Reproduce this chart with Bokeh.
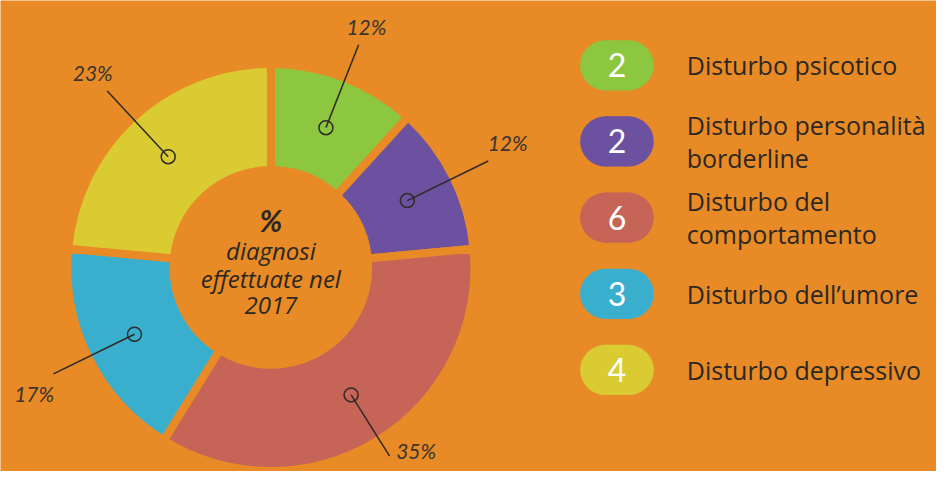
import math
from bokeh.plotting import figure
from bokeh.models import Range1d
from bokeh.core.properties import value
from bokeh.embed import file_html
from bokeh.resources import INLINE

# ---- data ----
categories = ["Disturbo psicotico", "Disturbo personalità\nborderline",
              "Disturbo del\ncomportamento", "Disturbo dell\u2019umore",
              "Disturbo depressivo"]
counts = [2, 2, 6, 3, 4]
pct_labels = ["12%", "12%", "35%", "17%", "23%"]
colors = ["#8DC63F", "#6C51A1", "#C66458", "#39AFCD", "#DACB33"]
center_lines = ["diagnosi", "effettuate nel", "2017"]

BG = "#E88A25"
INK = "#2B2824"
W, H = 952, 487

def Y(ys):  # reference y (top-down) -> data y
    return H - ys

p = figure(width=W - 16, height=H - 16, output_backend="svg", toolbar_location=None,
           x_range=Range1d(0, W), y_range=Range1d(0, H),
           x_axis_location=None, y_axis_location=None, min_border=0)
p.grid.visible = False
p.outline_line_color = None
p.background_fill_color = BG
p.border_fill_color = BG

cx, cy = 275, Y(276)
total = sum(counts)
starts, ends, mids = [], [], []
cum = 0
for c in counts:
    a0 = math.pi / 2 - 2 * math.pi * cum / total
    cum += c
    a1 = math.pi / 2 - 2 * math.pi * cum / total
    starts.append(a0); ends.append(a1); mids.append((a0 + a1) / 2)

gap = 8
p.annular_wedge(x=[cx] * len(counts), y=[cy] * len(counts),
                inner_radius=103 - gap / 2, outer_radius=203 + gap / 2,
                start_angle=starts, end_angle=ends, direction="clock",
                fill_color=colors, line_color=BG, line_width=gap)

# leader lines
r0, r1 = 155, 247
ymin = 16  # keep leader ends above the bottom edge
x0 = [cx + r0 * math.cos(m) for m in mids]
y0 = [cy + r0 * math.sin(m) for m in mids]
rr = [min(r1, (cy - ymin) / -math.sin(m)) if math.sin(m) < 0 else r1 for m in mids]
x1 = [cx + r * math.cos(m) for r, m in zip(rr, mids)]
y1 = [cy + r * math.sin(m) for r, m in zip(rr, mids)]
p.segment(x0=x0, y0=y0, x1=x1, y1=y1, line_color="#2E2A26", line_width=1.5)
p.scatter(x=x0, y=y0, size=14, fill_color=None, line_color="#2E2A26", line_width=1.5)
lx, ly = [], []
for r, x, y, m in zip(rr, x1, y1, mids):
    if r < r1:  # label would fall off the bottom: put it beside the line end
        lx.append(x + 27); ly.append(y + 6)
    else:
        lx.append(x + 22 * math.cos(m)); ly.append(y + (19 if math.sin(m) > 0 else -20))
p.text(x=lx, y=ly, text=pct_labels, text_font=value("Lato"), text_font_size="21px",
       text_font_style="italic", text_color="#3A3530", text_align="center",
       text_baseline="middle")

# centre text
p.text(x=[cx], y=[Y(227)], text=["%"], text_font=value("Lato"), text_font_size="30px",
       text_font_style="bold italic", text_color=INK, text_align="center",
       text_baseline="middle")
p.text(x=[cx] * 3, y=[Y(259), Y(287), Y(315)], text=center_lines,
       text_font=value("Open Sans"), text_font_size="24px", text_font_style="italic",
       text_color=INK, text_align="center", text_baseline="middle")

# legend
n = len(categories)
ly_leg = [Y(67 + i * 78.75) for i in range(n)]
px = 627
p.rect(x=[px] * n, y=ly_leg, width=23, height=52, fill_color=colors, line_color=None)
p.ellipse(x=[px - 11.5] * n, y=ly_leg, width=52, height=52, fill_color=colors, line_color=None)
p.ellipse(x=[px + 11.5] * n, y=ly_leg, width=52, height=52, fill_color=colors, line_color=None)
p.text(x=[px] * n, y=ly_leg, text=[str(c) for c in counts], text_font=value("Lato"),
       text_font_size="32px", text_color="white", text_align="center",
       text_baseline="middle")
p.text(x=[698] * n, y=ly_leg, text=categories, text_font=value("Open Sans"),
       text_font_size="25px", text_color=INK, text_align="left",
       text_baseline="middle", text_line_height=0.98)

open("out.html", "w").write(file_html(p, INLINE))
